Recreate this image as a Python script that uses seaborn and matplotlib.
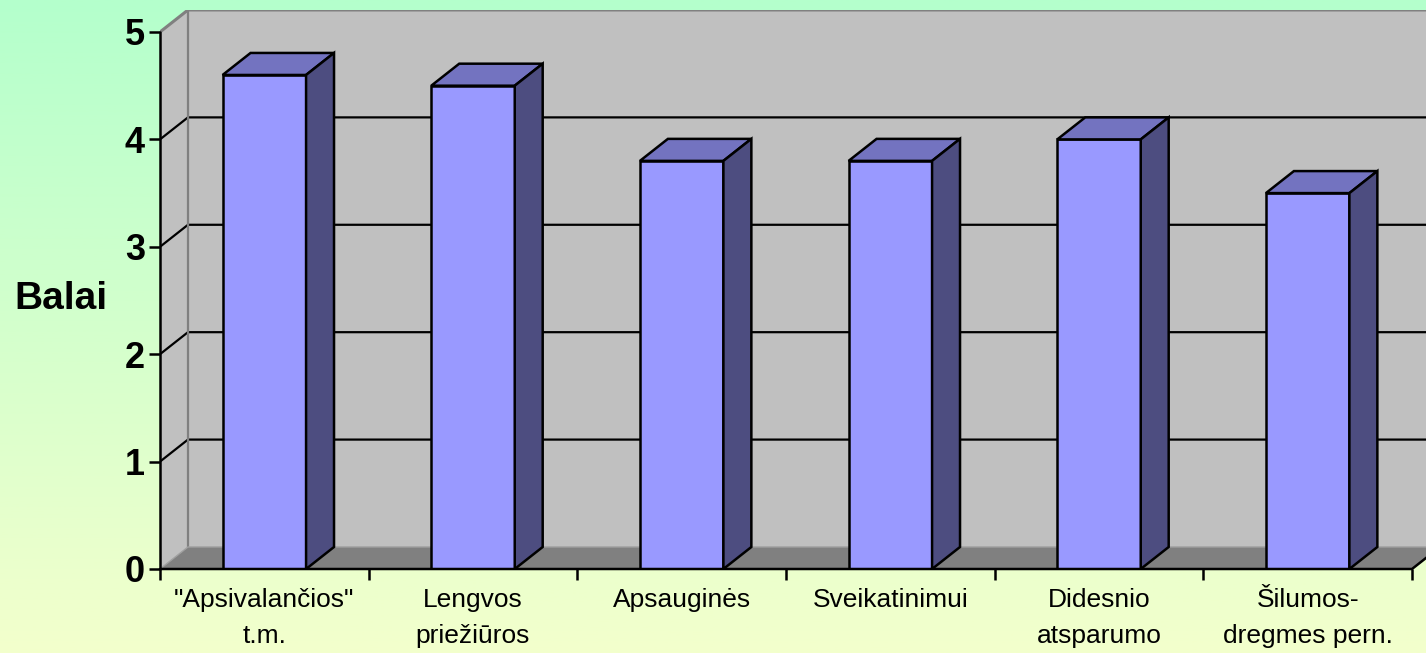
import numpy as np
import pandas as pd
import matplotlib
matplotlib.use('Agg')
import matplotlib.pyplot as plt
from matplotlib.patches import Polygon
import seaborn as sns

CATEGORIES = ['"Apsivalančios"\nt.m.', 'Lengvos\npriežiūros', 'Apsauginės',
              'Sveikatinimui', 'Didesnio\natsparumo', 'Šilumos-\ndregmes pern.']
SCORES = [4.6, 4.5, 3.8, 3.8, 4.0, 3.5]
Y_TICKS = [0, 1, 2, 3, 4, 5]
Y_LABEL = 'Balai'

# 3D look: depth offset of back wall, in data units
DX = 0.134
DY = 0.205
FRONT = '#9999FF'
TOP = '#7373C0'
SIDE = '#4D4D80'
WALL = '#C0C0C0'
FLOOR = '#808080'

sns.set_style('white')
plt.rcParams['font.family'] = ['Liberation Sans', 'DejaVu Sans']
plt.rcParams['text.color'] = 'black'
plt.rcParams['xtick.color'] = 'black'
plt.rcParams['ytick.color'] = 'black'

W, H = 1426, 653
fig = plt.figure(figsize=(W / 100, H / 100), dpi=100)

# gradient background
bg = fig.add_axes([0, 0, 1, 1], zorder=-10)
top_c = np.array([180, 255, 204]) / 255
bot_c = np.array([243, 255, 204]) / 255
t = np.linspace(0, 1, 256)[:, None]
grad = top_c[None, :] * (1 - t) + bot_c[None, :] * t
bg.imshow(np.repeat(grad[:, None, :], 2, axis=1), aspect='auto', extent=[0, 1, 0, 1])
bg.axis('off')

# main axes: front plane spans 160..1412 px, y 0 at 569 px, 5 at 32 px
left_px, right_px, top_px, bot_px = 160, 1426, 10, 569
cat_px = (1412 - 160) / 6
unit_px = (569 - 32) / 5
ax = fig.add_axes([left_px / W, (H - bot_px) / H, (right_px - left_px) / W,
                   (bot_px - top_px) / H])
ax.patch.set_alpha(0)
n = len(CATEGORIES)
xmax = -0.5 + (right_px - left_px) / cat_px
ymax = (bot_px - top_px) / unit_px
for s in ax.spines.values():
    s.set_visible(False)

ymax_tick = Y_TICKS[-1]
x0, x1 = -0.5, n - 0.5

# left wall, back wall, floor
ax.add_patch(Polygon([(x0, 0), (x0 + DX, DY), (x0 + DX, ymax_tick + DY), (x0, ymax_tick)],
                     closed=True, facecolor=WALL, edgecolor='none', zorder=0))
ax.add_patch(Polygon([(x0 + DX, DY), (x1 + DX, DY), (x1 + DX, ymax_tick + DY), (x0 + DX, ymax_tick + DY)],
                     closed=True, facecolor=WALL, edgecolor='none', zorder=0))
ax.add_patch(Polygon([(x0, 0), (x1, 0), (x1 + DX, DY), (x0 + DX, DY)],
                     closed=True, facecolor=FLOOR, edgecolor='none', zorder=0))

# gridlines on walls
for v in Y_TICKS[1:-1]:
    ax.plot([x0, x0 + DX, x1 + DX], [v, v + DY, v + DY], color='black', lw=1.6,
            zorder=1, solid_capstyle='butt')
# wall edges
ax.plot([x0, x0 + DX, x1 + DX], [ymax_tick, ymax_tick + DY, ymax_tick + DY],
        color=FLOOR, lw=2.2, zorder=1)
ax.plot([x0 + DX, x0 + DX], [DY, ymax_tick + DY], color=FLOOR, lw=1.6, zorder=1)
ax.plot([x0, x0 + DX, x1 + DX], [0, DY, DY], color='#A0A0A0', lw=1.0, zorder=1)

# front faces via seaborn
df = pd.DataFrame({'cat': CATEGORIES, 'score': SCORES})
sns.barplot(data=df, x='cat', y='score', order=CATEGORIES, width=0.4, color=FRONT,
            saturation=1, edgecolor='black', linewidth=1.8, ax=ax, zorder=3)

for p in list(ax.patches):
    if p.get_zorder() != 3:
        continue
    bx0 = p.get_x()
    bx1 = bx0 + p.get_width()
    h = p.get_height()
    ax.add_patch(Polygon([(bx0, h), (bx0 + DX, h + DY), (bx1 + DX, h + DY), (bx1, h)],
                         closed=True, facecolor=TOP, edgecolor='black', lw=1.8, zorder=3))
    ax.add_patch(Polygon([(bx1, 0), (bx1, h), (bx1 + DX, h + DY), (bx1 + DX, DY)],
                         closed=True, facecolor=SIDE, edgecolor='black', lw=1.8, zorder=3))

# front axes lines
ax.plot([x0, x1, x1 + DX], [0, 0, DY], color='black', lw=1.8, zorder=4, clip_on=False)
ax.plot([x0, x0], [0, ymax_tick], color='black', lw=1.8, zorder=4, clip_on=False)

# seaborn resets the limits of a categorical axis, so set them last
ax.set_xlim(-0.5, xmax)
ax.set_ylim(0, ymax)

# ticks
ax.set_xticks(range(n))
ax.set_xticklabels(CATEGORIES, fontsize=19, linespacing=1.62)
ax.set_xticks(np.arange(-0.5, n, 1), minor=True)
ax.tick_params(axis='x', which='major', length=0, pad=14)
ax.tick_params(axis='x', which='minor', length=8, width=1.8, color='black', bottom=True)
ax.set_yticks(Y_TICKS)
ax.set_yticklabels([str(v) for v in Y_TICKS], fontsize=26, fontweight='bold')
ax.tick_params(axis='y', length=8, width=1.8, color='black', pad=3, left=True)
ax.set_xlabel('')
ax.set_ylabel('')
fig.text(61 / W, 1 - 299 / H, Y_LABEL, fontsize=28, fontweight='bold',
         ha='center', va='center')

fig.savefig('out.png', dpi=100)
